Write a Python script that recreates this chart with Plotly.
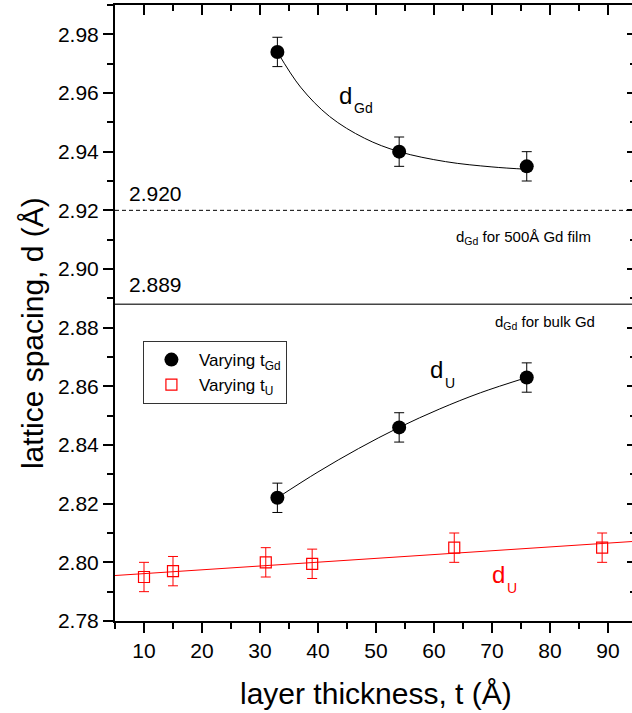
import plotly.graph_objects as go

# ---------------- data ----------------
# Varying t_Gd (black filled circles)
gd_x_upper = [33, 54, 76]
gd_y_upper = [2.974, 2.940, 2.935]      # d_Gd
gd_x_lower = [33, 54, 76]
gd_y_lower = [2.822, 2.846, 2.863]      # d_U
gd_err = 0.005

# Varying t_U (red open squares)
u_x = [10, 15, 31, 39, 63.5, 89]
u_y = [2.795, 2.797, 2.800, 2.7995, 2.805, 2.805]
u_err = 0.005

# fitted guide curves
fit_gd_x = [33, 37, 42, 48, 54, 62, 70, 76]
fit_gd_y = [2.974, 2.962, 2.952, 2.9446, 2.940, 2.9366, 2.9348, 2.934]
fit_du_x = [33, 40, 47, 54, 61, 68, 76]
fit_du_y = [2.822, 2.8308, 2.8388, 2.846, 2.8523, 2.8578, 2.863]
fit_red_x = [5, 95]
fit_red_y = [2.7955, 2.8072]

# reference lattice spacings
ref_film = 2.920
ref_bulk = 2.888
ref_film_label = "2.920"
ref_bulk_label = "2.889"

x_range = [5, 94.15]
y_range = [2.78, 2.99]

FONT = "Liberation Sans, Arial, sans-serif"

fig = go.Figure()

fig.add_trace(go.Scatter(x=fit_gd_x, y=fit_gd_y, mode="lines", line=dict(color="black", width=1, shape="spline"),
                         showlegend=False, hoverinfo="skip"))
fig.add_trace(go.Scatter(x=fit_du_x, y=fit_du_y, mode="lines", line=dict(color="black", width=1, shape="spline"),
                         showlegend=False, hoverinfo="skip"))
fig.add_trace(go.Scatter(x=fit_red_x, y=fit_red_y, mode="lines", line=dict(color="red", width=1),
                         showlegend=False, hoverinfo="skip"))

fig.add_trace(go.Scatter(
    x=gd_x_upper + gd_x_lower, y=gd_y_upper + gd_y_lower, mode="markers",
    name="Varying t<sub>Gd</sub>",
    marker=dict(symbol="circle", size=14, color="black"),
    error_y=dict(type="constant", value=gd_err, color="black", thickness=1, width=5),
))
fig.add_trace(go.Scatter(
    x=u_x, y=u_y, mode="markers",
    name="Varying t<sub>U</sub>",
    marker=dict(symbol="square-open", size=11, color="red", line=dict(width=1.2, color="red")),
    error_y=dict(type="constant", value=u_err, color="red", thickness=1, width=5),
))

# dummy trace for the mirrored top/right axes
fig.add_trace(go.Scatter(x=[None], y=[None], xaxis="x2", yaxis="y2", showlegend=False, hoverinfo="skip"))

fig.add_shape(type="line", xref="paper", x0=0, x1=1, yref="y", y0=ref_film, y1=ref_film,
              line=dict(color="black", width=1, dash="4px,3px"))
fig.add_shape(type="line", xref="paper", x0=0, x1=1, yref="y", y0=ref_bulk, y1=ref_bulk,
              line=dict(color="#444444", width=1.5))

ann = []
def txt(x, y, text, size, color="black", xanchor="left", xref="x", yref="y", angle=0):
    ann.append(dict(x=x, y=y, xref=xref, yref=yref, text=text, showarrow=False,
                    xanchor=xanchor, yanchor="middle", textangle=angle,
                    font=dict(size=size, color=color, family=FONT)))

txt(7.0, 2.9257, ref_film_label, 21)
txt(7.0, 2.8946, ref_bulk_label, 21)
txt(63.5, 2.9106, "d<sub>Gd</sub> for 500Å Gd film", 15)
txt(70.1, 2.8819, "d<sub>Gd</sub> for bulk Gd", 15)
# curve labels
txt(43.3, 2.9593, "d", 24)
txt(45.9, 2.9549, "Gd", 14)
txt(58.9, 2.8656, "d", 24)
txt(61.5, 2.8613, "U", 14)
txt(69.6, 2.7960, "d", 24, color="red")
txt(72.3, 2.7912, "U", 14, color="red")
# axis titles
txt(0.5058, -0.1185, "layer thickness, t (Å)", 30, xanchor="center", xref="paper", yref="paper")
txt(-0.1605, 0.4675, "lattice spacing, d (Å)", 30, xanchor="center", xref="paper", yref="paper", angle=-90)

axis_common = dict(showgrid=False, zeroline=False, linecolor="black", tickcolor="black")

fig.update_layout(
    width=632, height=713,
    margin=dict(l=115, r=0, t=5, b=92),
    plot_bgcolor="white", paper_bgcolor="white",
    font=dict(family=FONT, size=21, color="black"),
    annotations=ann,
    showlegend=True,
    legend=dict(x=0.054, y=0.4545, xanchor="left", yanchor="top",
                bordercolor="#333333", borderwidth=1, bgcolor="white",
                font=dict(size=17, family=FONT), tracegroupgap=0, itemwidth=45),
    xaxis=dict(range=x_range, tick0=10, dtick=10, ticks="outside", ticklen=10, tickwidth=2,
               showline=True, linewidth=2, tickfont=dict(size=21),
               minor=dict(dtick=5, tick0=5, ticks="outside", ticklen=6, tickwidth=2, tickcolor="black"),
               **axis_common),
    yaxis=dict(range=y_range, tick0=2.78, dtick=0.02, tickformat=".2f", ticks="outside", ticklen=10,
               tickwidth=2, showline=True, linewidth=2, tickfont=dict(size=21),
               minor=dict(dtick=0.01, ticks="outside", ticklen=6, tickwidth=2, tickcolor="black"),
               **axis_common),
    xaxis2=dict(range=x_range, overlaying="x", side="top", anchor="y2", tick0=10, dtick=10,
                ticks="inside", ticklen=10, tickwidth=2, showline=True, linewidth=2, showticklabels=False,
                minor=dict(dtick=5, tick0=5, ticks="inside", ticklen=6, tickwidth=2, tickcolor="black"),
                **axis_common),
    yaxis2=dict(range=y_range, overlaying="y", side="right", anchor="x2", tick0=2.78, dtick=0.02,
                ticks="inside", ticklen=5, tickwidth=2, showline=False, showticklabels=False,
                minor=dict(dtick=0.01, ticks="inside", ticklen=2, tickwidth=2, tickcolor="black"),
                **axis_common),
)

fig.write_html("out.html")
